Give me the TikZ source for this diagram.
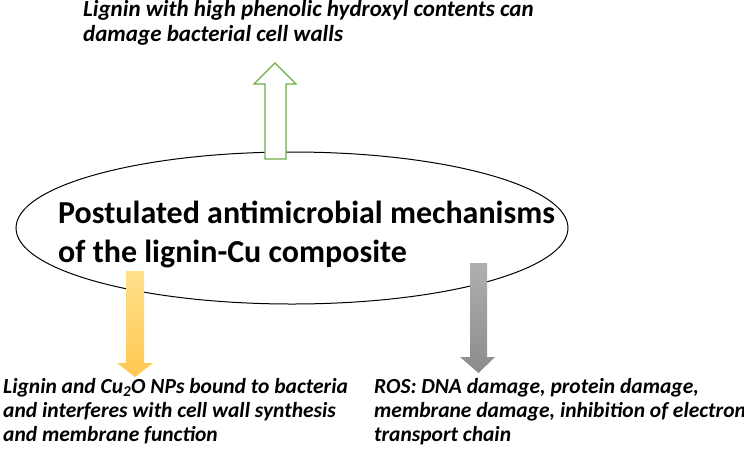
\documentclass[tikz,border=0pt]{standalone}
\usepackage{fontspec}
\setmainfont{Carlito}
\usetikzlibrary{shapes.geometric}
\begin{document}
\begin{tikzpicture}[x=1pt,y=-1pt,
  lab/.style={font=\fontsize{21.5}{24}\selectfont\bfseries\itshape, align=left, anchor=north west, inner sep=0pt},
  labt/.style={lab, font=\fontsize{23}{25}\selectfont\bfseries\itshape},
  ttl/.style={font=\fontsize{32}{39}\selectfont\bfseries, align=left, anchor=north west, inner sep=0pt}]
\useasboundingbox (0,0) rectangle (744,448);
\node[draw=black, line width=1pt, fill=white, ellipse, minimum width=552pt, minimum height=152pt, inner sep=0pt] (ell) at (292,228) {};
\node[ttl] (title) at (58,201) {Postulated antimicrobial mechanisms\\of the lignin-Cu composite};
% green up arrow
\draw[draw={rgb,255:red,112;green,173;blue,71}, line width=1.2pt, fill=white]
  (265,159) -- (265,84) -- (254,84) -- (275,63) -- (296,84) -- (286,84) -- (286,159) -- cycle;
% orange down arrow
\shade[top color={rgb,255:red,255;green,225;blue,140}, bottom color={rgb,255:red,255;green,200;blue,80}]
  (126,271) -- (144,271) -- (144,363) -- (153,363) -- (135,377) -- (117,363) -- (126,363) -- cycle;
% gray down arrow
\shade[top color={rgb,255:red,175;green,175;blue,175}, bottom color={rgb,255:red,140;green,140;blue,140}]
  (470,263) -- (487,263) -- (487,357) -- (495,357) -- (478.5,373) -- (460,357) -- (470,357) -- cycle;
\node[labt] (top) at (83,0) {Lignin with high phenolic hydroxyl contents can\\damage bacterial cell walls};
\node[lab] (bl) at (3,378) {Lignin and Cu\textsubscript{2}O NPs bound to bacteria\\and interferes with cell wall synthesis\\and membrane function};
\node[lab] (br) at (374,378) {ROS: DNA damage, protein damage,\\membrane damage, inhibition of electron\\transport chain};
\end{tikzpicture}
\end{document}
